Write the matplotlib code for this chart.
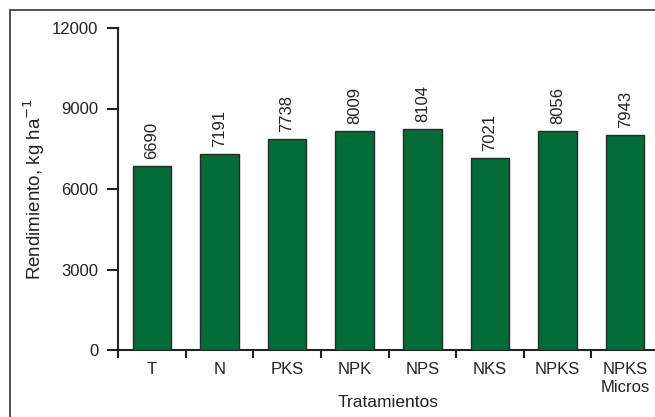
import numpy as np
import matplotlib.pyplot as plt
from matplotlib.patches import Rectangle

plt.rcParams['font.family'] = ['Liberation Sans', 'DejaVu Sans']

# Data
tratamientos = ['T', 'N', 'PKS', 'NPK', 'NPS', 'NKS', 'NPKS', 'NPKS\nMicros']
bar_heights = [6860, 7290, 7860, 8160, 8240, 7170, 8160, 8030]
value_labels = ['6690', '7191', '7738', '8009', '8104', '7021', '8056', '7943']
y_ticks = [0, 3000, 6000, 9000, 12000]

fig = plt.figure(figsize=(6.55, 4.17), dpi=100)

# Outer frame
fig.patches.append(Rectangle((10 / 655, -0.01), 1.0, 1 - 10 / 417 + 0.01,
                             transform=fig.transFigure, fill=False,
                             edgecolor='#444444', linewidth=1.3))

ax = fig.add_axes([118 / 655, 67 / 417, 541 / 655, 322 / 417])

x = np.arange(len(tratamientos))
ax.bar(x, bar_heights, width=0.57, color='#036b38', edgecolor='#2a2a2a', linewidth=1.0, zorder=3)

for xi, h, lab in zip(x, bar_heights, value_labels):
    ax.annotate(lab, (xi, h), xytext=(0, 5), textcoords='offset points',
                rotation=90, ha='center', va='bottom', fontsize=12, color='#222222')

ax.set_xlim(-0.5, len(tratamientos) - 0.5)
ax.set_ylim(0, 12000)
ax.set_yticks(y_ticks)
ax.set_yticklabels([str(t) for t in y_ticks], fontsize=12, color='#222222')

# category labels centred, ticks at category boundaries
ax.set_xticks(x)
ax.set_xticklabels(tratamientos, fontsize=12, color='#222222', linespacing=1.2)
ax.tick_params(axis='x', which='major', length=0, pad=9)
ax.set_xticks(np.arange(-0.5, len(tratamientos), 1.0), minor=True)
ax.tick_params(axis='x', which='minor', length=6, width=1.5, color='#222222')
ax.tick_params(axis='y', length=8, width=1.5, color='#222222', pad=6)

for side in ['top', 'right']:
    ax.spines[side].set_visible(False)
for side in ['left', 'bottom']:
    ax.spines[side].set_linewidth(1.5)
    ax.spines[side].set_color('#222222')

ax.set_xlabel('Tratamientos', fontsize=12.5, color='#222222', labelpad=0)
ax.set_ylabel('Rendimiento, kg ha$^{-1}$', fontsize=13.5, color='#222222', labelpad=4)

fig.savefig('out.png', dpi=100)
